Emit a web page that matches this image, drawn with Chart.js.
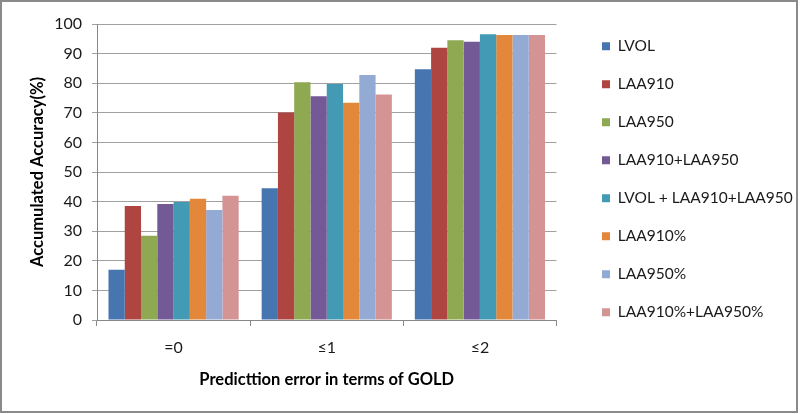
<!DOCTYPE html>
<html><head><meta charset="utf-8">
<script src="https://cdn.jsdelivr.net/npm/chart.js@4"></script>
<style>html,body{margin:0;padding:0;background:#fff}#wrap{width:800px;height:414px;position:relative}</style>
</head><body><div id="wrap"><canvas id="c" width="800" height="414"></canvas></div>
<script>
const categories = ['=0', '≤1', '≤2'];
const seriesNames = ['LVOL', 'LAA910', 'LAA950', 'LAA910+LAA950', 'LVOL + LAA910+LAA950', 'LAA910%', 'LAA950%', 'LAA910%+LAA950%'];
const LVOL = [17, 44.5, 84.7];
const LAA910 = [38.5, 70.1, 92];
const LAA950 = [28.5, 80.3, 94.5];
const LAA910_LAA950 = [39.2, 75.6, 94];
const LVOL_LAA910_LAA950 = [39.9, 79.7, 96.5];
const LAA910pct = [41, 73.4, 96.3];
const LAA950pct = [37.2, 82.8, 96.3];
const LAA910pct_LAA950pct = [42, 76.2, 96.3];
const seriesValues = [LVOL, LAA910, LAA950, LAA910_LAA950, LVOL_LAA910_LAA950, LAA910pct, LAA950pct, LAA910pct_LAA950pct];
const seriesColors = ['#4775B0', '#AE4541', '#8EA951', '#735996', '#429AB4', '#E3883B', '#93AAD5', '#D49494'];
const yTicks = [0, 10, 20, 30, 40, 50, 60, 70, 80, 90, 100];

const FONT = 'Lato';
const LFS = 15.5, P = 22.5, BOX = 8;
const mctx = document.createElement('canvas').getContext('2d');
mctx.font = LFS + 'px ' + FONT;
const maxTextW = Math.max(...seriesNames.map(n => mctx.measureText(n).width));
const legendW = P + BOX + LFS / 2 + maxTextW + 10;
const legendLeft = 602 - P;
const padRight = 800 - legendLeft - legendW;

const borderPlugin = {
  id: 'frame',
  afterDraw(chart) {
    const ctx = chart.ctx;
    ctx.save();
    ctx.strokeStyle = '#8a8a8a';
    ctx.lineWidth = 2;
    ctx.strokeRect(1, 1, 796, 411);
    ctx.restore();
  }
};

new Chart(document.getElementById('c'), {
  type: 'bar',
  data: {
    labels: categories,
    datasets: seriesNames.map((n, i) => ({
      label: n,
      data: seriesValues[i],
      backgroundColor: seriesColors[i],
      borderWidth: 0,
      barPercentage: 1,
      categoryPercentage: 0.85
    }))
  },
  options: {
    responsive: false,
    animation: false,
    layout: { padding: { left: 4, right: padRight, top: 16, bottom: 16 } },
    plugins: {
      tooltip: { enabled: false },
      title: { display: true, text: '', fullSize: false, padding: 0, font: { size: 8, lineHeight: 1 } },
      legend: {
        position: 'right',
        align: 'start',
        maxWidth: 400,
        labels: {
          boxWidth: BOX, boxHeight: BOX, padding: P,
          color: '#1a1a1a',
          font: { family: FONT, size: LFS }
        }
      }
    },
    scales: {
      x: {
        grid: { offset: true, drawOnChartArea: false, drawTicks: true, tickLength: 6, color: '#888' },
        border: { color: '#888', width: 1 },
        ticks: { color: '#1a1a1a', padding: 12, font: { family: FONT, size: 16 } },
        title: { display: true, text: 'Predicttion error in terms of GOLD', color: '#000', font: { family: FONT, size: 16.5, weight: 'bold' }, padding: { top: 0, bottom: 8 } },
        afterFit: s => { s.height = 78; }
      },
      y: {
        min: 0, max: 100,
        afterBuildTicks: s => { s.ticks = yTicks.map(v => ({ value: v })); },
        grid: { color: '#a0a0a0', tickLength: 5 },
        border: { color: '#888', width: 1 },
        ticks: { color: '#1a1a1a', padding: 10, font: { family: FONT, size: 16 } },
        title: { display: true, text: 'Accumulated Accuracy(%)', color: '#000', font: { family: FONT, size: 16.5, weight: 'bold' }, padding: { top: 24, bottom: 0 } },
        afterFit: s => { s.width = 93; }
      },
      y2: {
        position: 'right',
        display: true,
        grid: { display: false },
        border: { display: false },
        ticks: { display: false },
        afterFit: s => { s.width = 23; }
      }
    }
  },
  plugins: [borderPlugin]
});
</script>
</body></html>
